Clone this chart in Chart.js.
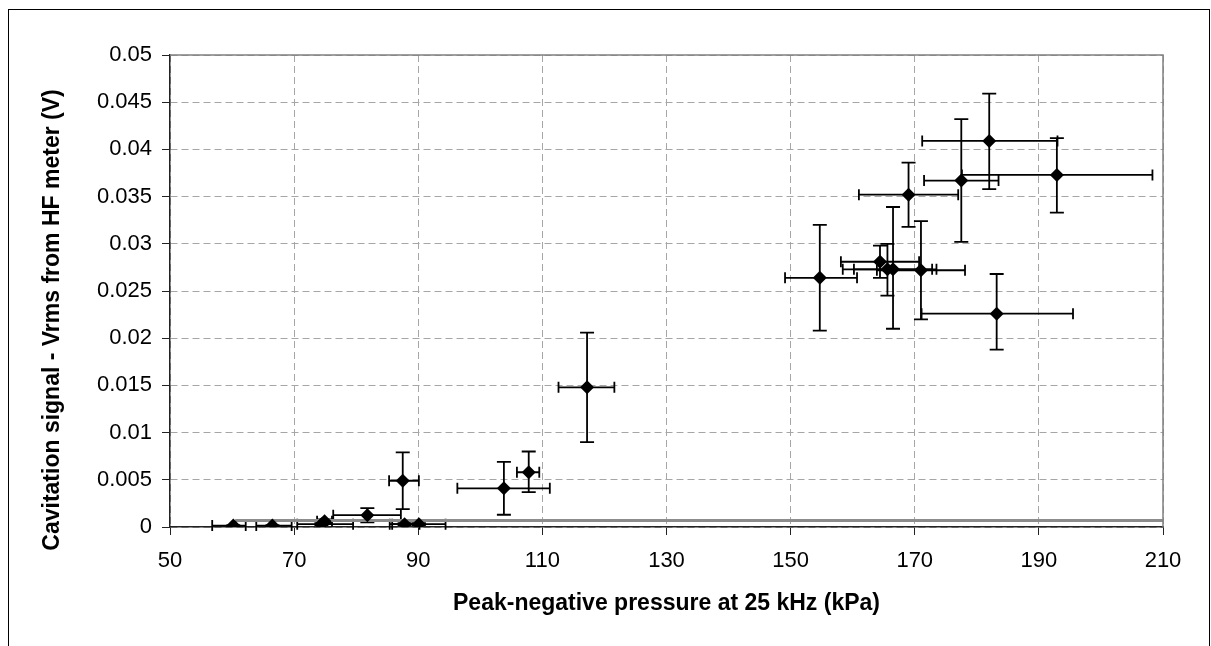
<!DOCTYPE html>
<html>
<head>
<meta charset="utf-8">
<script src="https://cdn.jsdelivr.net/npm/chart.js@4/dist/chart.umd.min.js"></script>
<style>
html, body { margin: 0; background: #fff; overflow: hidden; }
#frame { position: absolute; left: 8px; top: 9px; width: 1200px; height: 700px; border: 1px solid #000; border-bottom: none; }
#wrap { position: absolute; left: 0; top: 0; width: 1211px; height: 646px; }
</style>
</head>
<body>
<div id="frame"></div>
<div id="wrap"><canvas id="chart" width="1211" height="646"></canvas></div>
<script>
// pressure (kPa) and HF meter signal (V), with error bar ends
const pressure     = [60.2, 66.5, 74.4, 74.9, 81.8, 87.5, 87.8, 90.1, 103.8, 107.8, 117.2, 154.7, 164.4, 165.6, 166.5, 171.0, 183.2, 169.0, 177.5, 182.0, 192.9];
const signal       = [0.00015, 0.00015, 0.0003, 0.0006, 0.00125, 0.0049, 0.0003, 0.0003, 0.0041, 0.0058, 0.0148, 0.0264, 0.0281, 0.0273, 0.0273, 0.0272, 0.0226, 0.0352, 0.0367, 0.0409, 0.0373];
const pressureLow  = [56.8, 63.9, 70.5, 73.7, 76.3, 85.3, 85.4, 85.8, 96.3, 105.9, 112.6, 149.1, 158.1, 158.4, 160.2, 163.9, 171.1, 161.0, 171.5, 171.2, 177.6];
const pressureHigh = [62.2, 69.6, 79.5, 76.1, 87.2, 90.1, 90.2, 94.4, 111.2, 109.5, 121.6, 160.7, 170.7, 172.8, 173.5, 178.1, 195.5, 177.0, 183.5, 193.0, 208.3];
const signalLow    = [0.0001, 0.0001, 0.0002, 0.0004, 0.0005, 0.0019, 0.0002, 0.0002, 0.0013, 0.0037, 0.0090, 0.0208, 0.0264, 0.0245, 0.0210, 0.0220, 0.0188, 0.0318, 0.0302, 0.0358, 0.0333];
const signalHigh   = [0.0002, 0.0002, 0.0004, 0.0008, 0.0020, 0.0079, 0.0004, 0.0004, 0.0069, 0.0080, 0.0206, 0.0320, 0.0298, 0.0300, 0.0339, 0.0324, 0.0268, 0.0386, 0.0432, 0.0459, 0.0412];

// grey noise floor line
const floorPressure = [60.5, 210];
const floorSignal   = [0.0007, 0.0007];

const xTicks = [50, 70, 90, 110, 130, 150, 170, 190, 210];
const yTicks = [0, 0.005, 0.01, 0.015, 0.02, 0.025, 0.03, 0.035, 0.04, 0.045, 0.05];
const yTickLabels = ['0', '0.005', '0.01', '0.015', '0.02', '0.025', '0.03', '0.035', '0.04', '0.045', '0.05'];

const xTitle = 'Peak-negative pressure at 25 kHz (kPa)';
const yTitle = 'Cavitation signal - Vrms from HF meter (V)';

const tickFont = { family: '"Liberation Sans", Arial, sans-serif', size: 22 };

const errorBars = {
  id: 'errorBars',
  beforeDatasetsDraw(chart) {
    const { ctx, scales: { x, y } } = chart;
    ctx.save();
    ctx.strokeStyle = '#000';
    ctx.lineWidth = 1.8;
    pressure.forEach((p, i) => {
      const cx = x.getPixelForValue(p), cy = y.getPixelForValue(signal[i]);
      const x1 = x.getPixelForValue(pressureLow[i]), x2 = x.getPixelForValue(pressureHigh[i]);
      const y1 = y.getPixelForValue(signalLow[i]), y2 = y.getPixelForValue(signalHigh[i]);
      ctx.beginPath();
      ctx.moveTo(x1, cy); ctx.lineTo(x2, cy);
      ctx.moveTo(x1, cy - 5.5); ctx.lineTo(x1, cy + 5.5);
      ctx.moveTo(x2, cy - 5.5); ctx.lineTo(x2, cy + 5.5);
      ctx.moveTo(cx, y1); ctx.lineTo(cx, y2);
      ctx.moveTo(cx - 7, y1); ctx.lineTo(cx + 7, y1);
      ctx.moveTo(cx - 7, y2); ctx.lineTo(cx + 7, y2);
      ctx.stroke();
    });
    ctx.restore();
  }
};

// grey top/right edges of the plot area + axis titles
const extras = {
  id: 'extras',
  afterDraw(chart) {
    const { ctx, chartArea: a } = chart;
    ctx.save();
    ctx.strokeStyle = '#808080';
    ctx.lineWidth = 1.5;
    ctx.beginPath();
    ctx.moveTo(a.left, a.top); ctx.lineTo(a.right, a.top); ctx.lineTo(a.right, a.bottom);
    ctx.stroke();

    ctx.fillStyle = '#000';
    ctx.font = 'bold 23px "Liberation Sans", Arial, sans-serif';
    ctx.textAlign = 'center';
    ctx.textBaseline = 'alphabetic';
    ctx.fillText(xTitle, (a.left + a.right) / 2, 610);
    ctx.translate(59, 320);
    ctx.rotate(-Math.PI / 2);
    ctx.fillText(yTitle, 0, 0);
    ctx.restore();
  }
};

new Chart(document.getElementById('chart'), {
  type: 'scatter',
  data: {
    datasets: [
      {
        label: 'Cavitation signal',
        data: pressure.map((p, i) => ({ x: p, y: signal[i] })),
        pointStyle: 'rectRot',
        pointRadius: 7,
        backgroundColor: '#000',
        borderColor: '#000',
        borderWidth: 0,
        order: 1
      },
      {
        label: 'floor',
        type: 'line',
        data: floorPressure.map((p, i) => ({ x: p, y: floorSignal[i] })),
        borderColor: '#8c8c8c',
        borderWidth: 3,
        pointRadius: 0,
        order: 2
      }
    ]
  },
  options: {
    responsive: false,
    animation: false,
    layout: { padding: { left: 0, top: 55, right: 48, bottom: 0 } },
    plugins: { legend: { display: false }, tooltip: { enabled: false } },
    scales: {
      x: {
        type: 'linear',
        min: 50, max: 210,
        afterBuildTicks: s => { s.ticks = xTicks.map(v => ({ value: v })); },
        afterFit: s => { s.height = 119; },
        ticks: { font: tickFont, color: '#000', padding: 13, maxRotation: 0, autoSkip: false, callback: v => String(v) },
        grid: { color: '#a6a6a6', lineWidth: 1, tickColor: '#222', tickLength: 8 },
        border: { color: '#222', width: 1.5, dash: [7, 4] }
      },
      y: {
        type: 'linear',
        min: 0, max: 0.05,
        afterBuildTicks: s => { s.ticks = yTicks.map(v => ({ value: v })); },
        afterFit: s => { s.width = 170; },
        ticks: { font: tickFont, color: '#000', padding: 10, autoSkip: false, callback: (v, i) => yTickLabels[i] },
        grid: { color: '#a6a6a6', lineWidth: 1, tickColor: '#222', tickLength: 8 },
        border: { color: '#222', width: 1.5, dash: [7, 4] }
      }
    }
  },
  plugins: [errorBars, extras]
});
</script>
</body>
</html>
